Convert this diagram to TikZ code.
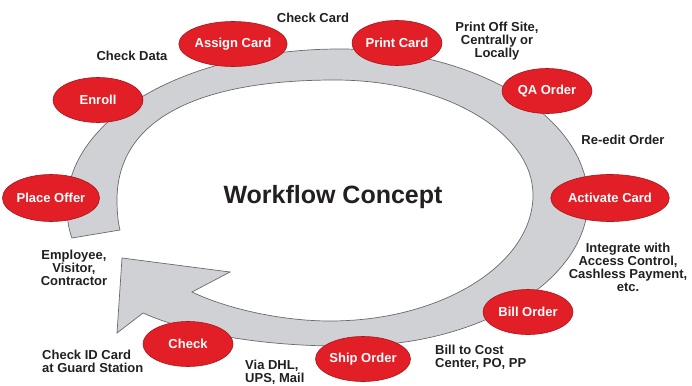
\documentclass[tikz,border=0pt]{standalone}
\usepackage{fontspec}
\setmainfont{Liberation Sans}
\usetikzlibrary{shapes.geometric}
\definecolor{wfred}{RGB}{226,30,38}
\definecolor{wfband}{RGB}{207,209,212}
\definecolor{wfedge}{RGB}{105,106,110}
\definecolor{wftext}{RGB}{35,31,32}
\begin{document}
\begin{tikzpicture}[x=1pt,y=-1pt,
  stage/.style={ellipse, fill=wfred, draw=wfred!75!black, line width=0.6pt,
    minimum width=90pt, minimum height=45pt, inner sep=0pt, text=white,
    font=\fontsize{13}{13}\selectfont\bfseries},
  note/.style={text=wftext, font=\fontsize{13}{13}\selectfont\bfseries,
    align=center, inner sep=0pt},
  band/.style={fill=wfband, draw=wfedge, line width=0.7pt, line join=miter}]
\useasboundingbox (0,0) rectangle (692,385);
% ring with arrow head
\path[band] (72,238) .. controls (68,228) and (67,217) .. (67,205)
  .. controls (67,118) and (187,49) .. (340,49)
  .. controls (476,49) and (588,117) .. (588,200)
  .. controls (588,280) and (481,346) .. (350,346)
  .. controls (260,347) and (185,332) .. (143,313)
  -- (117,333) -- (122,258) -- (230,272) -- (192,292)
  .. controls (225,308) and (280,321) .. (330,321)
  .. controls (442,321) and (533,264) .. (533,195)
  .. controls (533,132) and (444,80) .. (335,80)
  .. controls (193,80) and (117,122) .. (117,200)
  .. controls (117,212) and (118,222) .. (120,230)
  -- cycle;
% stages
\node[stage] (assign) at (233,44) {Assign Card};
\node[stage] (print) at (397,43) {Print Card};
\node[stage] (qa) at (547,91) {QA Order};
\node[stage, minimum width=94pt, minimum height=47pt] (activate) at (610,198) {Activate Card};
\node[stage] (bill) at (528,312) {Bill Order};
\node[stage] (ship) at (363,359) {Ship Order};
\node[stage] (check) at (188,344) {Check};
\node[stage, minimum width=93pt, minimum height=47pt] (offer) at (51,198) {Place Offer};
\node[stage] (enroll) at (98,100) {Enroll};
% notes
\node[note] (title) at (333,197) {\fontsize{25}{25}\selectfont Workflow Concept};
\node[note] (checkdata) at (132,56) {Check Data};
\node[note] (checkcard) at (313,18) {Check Card};
\node[note] (printoff) at (497,41) {Print Off Site,\\Centrally or\\Locally};
\node[note] (reedit) at (623,140) {Re-edit Order};
\node[note] (integrate) at (628,267) {Integrate with\\Access Control,\\Cashless Payment,\\etc.};
\node[note, align=left, anchor=west] (billto) at (435,357) {Bill to Cost\\Center, PO, PP};
\node[note, align=left, anchor=west] (via) at (245,372) {Via DHL,\\UPS, Mail};
\node[note, align=left, anchor=west] (checkid) at (42,361) {Check ID Card\\at Guard Station};
\node[note] (employee) at (74,268) {Employee,\\Visitor,\\Contractor};
\end{tikzpicture}
\end{document}
